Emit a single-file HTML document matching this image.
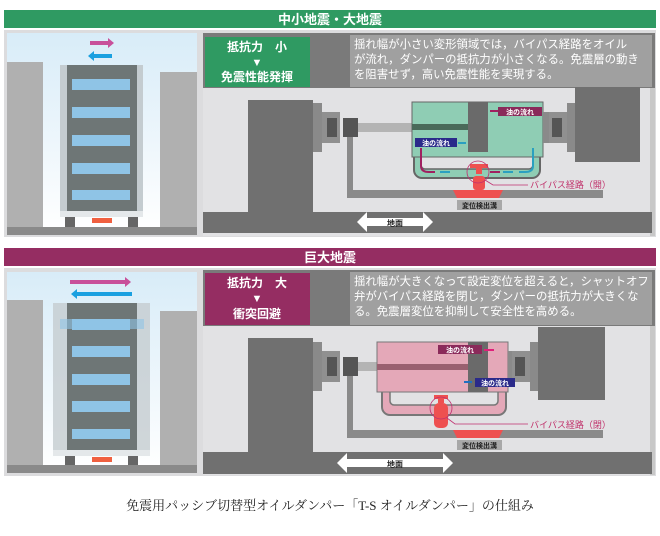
<!DOCTYPE html>
<html><head><meta charset="utf-8"><style>
html,body{margin:0;padding:0;background:#fff;}
svg{display:block;font-family:"Liberation Sans","Noto Sans CJK JP",sans-serif;}
</style></head><body>
<svg width="660" height="536" viewBox="0 0 660 536" xmlns="http://www.w3.org/2000/svg">
<defs>
<linearGradient id="sky" x1="0" y1="0" x2="0" y2="1"><stop offset="0" stop-color="#d8ecf8"/><stop offset="1" stop-color="#ffffff"/></linearGradient>
</defs>
<rect width="660" height="536" fill="#fff"/>
<rect x="4" y="10" width="652" height="18" fill="#2f9a62"/>
<text x="330" y="24" font-size="13" font-weight="bold" fill="#fff" text-anchor="middle">中小地震・大地震</text>
<rect x="4" y="248" width="652" height="18" fill="#952d62"/>
<text x="330" y="262" font-size="13" font-weight="bold" fill="#fff" text-anchor="middle">巨大地震</text>

<g>
<rect x="4" y="30" width="652" height="207" fill="#dcdcde"/>
<rect x="7" y="33" width="190" height="198" fill="url(#sky)"/>
<rect x="7" y="62" width="36" height="165" fill="#b0b0b0"/>
<rect x="160" y="72" width="37" height="155" fill="#b0b0b0"/>
<rect x="60" y="65" width="83" height="147" fill="#c4ccd0"/>
<rect x="67" y="65" width="70" height="147" fill="#6e7676"/>
<g fill="#8fc4e6"><rect x="72" y="79" width="58" height="11"/><rect x="72" y="107" width="58" height="11"/><rect x="72" y="135" width="58" height="11"/><rect x="72" y="163" width="58" height="11"/><rect x="72" y="190" width="58" height="10"/></g>
<rect x="92" y="200" width="40" height="10" fill="#6e7676"/>
<rect x="60" y="211" width="83" height="6" fill="#e4e8ea"/>
<rect x="65" y="217" width="10" height="10" fill="#666"/><rect x="128" y="217" width="10" height="10" fill="#666"/>
<rect x="92" y="218" width="20" height="5" fill="#f06040"/>
<rect x="7" y="227" width="190" height="8" fill="#8a8a8a"/>
<path d="M90 41h18v-3l6 5-6 5v-3h-18z" fill="#c8509a"/>
<path d="M112 54h-18v-3l-6 5 6 5v-3h18z" fill="#1aa0e0"/>
<rect x="203" y="33" width="452" height="203" fill="#e2e2e4"/>
<rect x="203" y="33" width="452" height="55" fill="#7a7a7a"/>
<rect x="205" y="37" width="105" height="50" fill="#2f9a62"/>
<text x="257" y="51" font-size="12" font-weight="bold" fill="#fff" text-anchor="middle">抵抗力　小</text>
<text x="257" y="66" font-size="11" fill="#fff" text-anchor="middle">▼</text>
<text x="257" y="81" font-size="12" font-weight="bold" fill="#fff" text-anchor="middle">免震性能発揮</text>
<rect x="350" y="35" width="302" height="52" fill="#a0a0a0"/>
<g font-size="11.4" fill="#fff"><text x="354" y="48">揺れ幅が小さい変形領域では，バイパス経路をオイル</text><text x="354" y="63">が流れ，ダンパーの抵抗力が小さくなる。免震層の動き</text><text x="354" y="78">を阻害せず，高い免震性能を実現する。</text></g>
<rect x="650" y="88" width="5" height="148" fill="#c8c8c8"/>
<rect x="248" y="100" width="65" height="113" fill="#707070"/>
<rect x="575" y="87" width="65" height="75" fill="#707070"/>
<rect x="203" y="212" width="449" height="21" fill="#707070"/>
<path d="M357 222l10-10v6h56v-6l10 10-10 10v-6h-56v6z" fill="#fff"/>
<text x="395" y="226" font-size="8" font-weight="bold" fill="#222" text-anchor="middle">地面</text>
<rect x="313" y="103" width="9" height="49" fill="#8a8a8a"/>
<rect x="322" y="112" width="18" height="31" fill="#909090"/><rect x="327" y="118" width="10" height="19" fill="#555"/>
<rect x="347" y="137" width="6" height="61" fill="#8a8a8a"/>
<rect x="347" y="190" width="256" height="8" fill="#8a8a8a"/>
<rect x="343" y="118" width="15" height="19" fill="#555"/>
<rect x="358" y="123" width="56" height="9" fill="#b4b4b4"/>
<rect x="414" y="150" width="126" height="28" rx="8" fill="#8fcdb4" stroke="#666" stroke-width="2"/>
<rect x="421" y="150" width="112" height="19" rx="4" fill="#e2e2e4" stroke="#666" stroke-width="1.5"/>
<rect x="412" y="102" width="131" height="55" fill="#8fcdb4" stroke="#666" stroke-width="1"/>
<rect x="412" y="124" width="56" height="6" fill="#4a6a5a"/>
<rect x="468" y="102" width="20" height="50" fill="#6a6a6a"/>
<rect x="543" y="112" width="6" height="31" fill="#8a8a8a"/><rect x="549" y="112" width="18" height="31" fill="#909090"/><rect x="552" y="118" width="10" height="19" fill="#555"/>
<rect x="567" y="103" width="8" height="49" fill="#8a8a8a"/>
<rect x="498" y="107" width="44" height="9" fill="#8a2a5a"/><text x="520" y="114.5" font-size="7" font-weight="bold" fill="#fff" text-anchor="middle">油の流れ</text>
<rect x="415" y="138" width="42" height="9" fill="#2a2a8a"/><text x="436" y="145.5" font-size="7" font-weight="bold" fill="#fff" text-anchor="middle">油の流れ</text>
<path d="M490 111h8" stroke="#a02060" stroke-width="2"/>
<path d="M466 143h-8" stroke="#2aa0c0" stroke-width="2"/>
<path d="M421 148v18q0 6 8 6h6" stroke="#a02060" stroke-width="2" fill="none"/>
<path d="M533 148v18q0 6 -8 6h-6" stroke="#2aa0c0" stroke-width="2" fill="none"/>
<path d="M450 172h-10M503 172h10" stroke="#2aa0c0" stroke-width="2"/><path d="M490 172h10" stroke="#a02060" stroke-width="2"/>
<rect x="470" y="164" width="18" height="4" fill="#ee5050"/><rect x="476" y="164" width="6" height="10" fill="#ee5050"/>
<rect x="473" y="176" width="12" height="14" rx="3" fill="#ee5050"/>
<path d="M453 190h50l-4 8h-42z" fill="#ee5050"/>
<circle cx="478" cy="172" r="11" fill="none" stroke="#c03070" stroke-width="0.8"/>
<path d="M485 180l8 5h35" stroke="#c03070" stroke-width="0.8" fill="none"/>
<text x="530" y="188" font-size="9" fill="#c0306a">バイパス経路（開）</text>
<rect x="457" y="200" width="45" height="10" fill="#a8a8a8"/><text x="479.5" y="208" font-size="7" font-weight="bold" fill="#222" text-anchor="middle">変位検出溝</text>
</g>

<g>
<rect x="4" y="268" width="652" height="208" fill="#dcdcde"/>
<rect x="7" y="272" width="190" height="198" fill="url(#sky)"/>
<rect x="7" y="300" width="36" height="165" fill="#b0b0b0"/>
<rect x="160" y="311" width="37" height="155" fill="#b0b0b0"/>
<rect x="53" y="303" width="97" height="147" fill="#c4ccd0" opacity="0.8"/>
<rect x="67" y="303" width="70" height="147" fill="#6e7676"/>
<g fill="#8fc4e6"><rect x="60" y="319" width="84" height="10" opacity="0.6"/><rect x="72" y="319" width="58" height="11"/><rect x="72" y="346" width="58" height="11"/><rect x="72" y="374" width="58" height="11"/><rect x="72" y="401" width="58" height="11"/><rect x="72" y="429" width="58" height="10"/></g>
<rect x="92" y="440" width="40" height="10" fill="#6e7676"/>
<rect x="53" y="450" width="97" height="6" fill="#e4e8ea"/>
<rect x="65" y="456" width="10" height="10" fill="#666"/><rect x="128" y="456" width="10" height="10" fill="#666"/>
<rect x="92" y="457" width="20" height="5" fill="#f06040"/>
<rect x="7" y="465" width="190" height="8" fill="#8a8a8a"/>
<path d="M70 280h55v-3l6 5-6 5v-3h-55z" fill="#c8509a"/>
<path d="M132 292h-55v-3l-6 5 6 5v-3h55z" fill="#1aa0e0"/>
<rect x="203" y="270" width="452" height="205" fill="#e2e2e4"/>
<rect x="203" y="270" width="452" height="56" fill="#7a7a7a"/>
<rect x="205" y="273" width="105" height="52" fill="#952d62"/>
<text x="257" y="287" font-size="12" font-weight="bold" fill="#fff" text-anchor="middle">抵抗力　大</text>
<text x="257" y="302" font-size="11" fill="#fff" text-anchor="middle">▼</text>
<text x="257" y="318" font-size="12" font-weight="bold" fill="#fff" text-anchor="middle">衝突回避</text>
<rect x="350" y="272" width="302" height="53" fill="#a0a0a0"/>
<g font-size="11.4" fill="#fff"><text x="354" y="285">揺れ幅が大きくなって設定変位を超えると，シャットオフ</text><text x="354" y="300">弁がバイパス経路を閉じ，ダンパーの抵抗力が大きくな</text><text x="354" y="315">る。免震層変位を抑制して安全性を高める。</text></g>
<rect x="650" y="326" width="5" height="149" fill="#c8c8c8"/>
<rect x="248" y="338" width="65" height="114" fill="#707070"/>
<rect x="538" y="327" width="67" height="73" fill="#707070"/>
<rect x="203" y="452" width="449" height="22" fill="#707070"/>
<path d="M337 463l10-10v6h96v-6l10 10-10 10v-6h-96v6z" fill="#fff"/>
<text x="395" y="467" font-size="8" font-weight="bold" fill="#222" text-anchor="middle">地面</text>
<rect x="313" y="342" width="9" height="49" fill="#8a8a8a"/>
<rect x="322" y="351" width="18" height="31" fill="#909090"/><rect x="327" y="357" width="10" height="19" fill="#555"/>
<rect x="347" y="376" width="6" height="62" fill="#8a8a8a"/>
<rect x="347" y="430" width="256" height="8" fill="#8a8a8a"/>
<rect x="343" y="357" width="15" height="19" fill="#555"/>
<rect x="358" y="362" width="20" height="9" fill="#b4b4b4"/>
<rect x="382" y="385" width="124" height="30" rx="8" fill="#e4a8b8" stroke="#777" stroke-width="2"/>
<rect x="390" y="385" width="108" height="20" rx="4" fill="#e2e2e4" stroke="#777" stroke-width="1.5"/>
<rect x="377" y="342" width="131" height="50" fill="#e4a8b8" stroke="#777" stroke-width="1"/>
<rect x="377" y="364" width="91" height="6" fill="#9a6070"/>
<rect x="468" y="342" width="20" height="50" fill="#6a6a6a"/>
<rect x="508" y="351" width="4" height="31" fill="#8a8a8a"/><rect x="512" y="351" width="18" height="31" fill="#909090"/><rect x="515" y="357" width="10" height="19" fill="#555"/>
<rect x="530" y="342" width="8" height="49" fill="#8a8a8a"/>
<rect x="438" y="345" width="44" height="9" fill="#8a2a5a"/><text x="460" y="352.5" font-size="7" font-weight="bold" fill="#fff" text-anchor="middle">油の流れ</text>
<rect x="475" y="378" width="40" height="9" fill="#2a2a8a"/><text x="495" y="385.5" font-size="7" font-weight="bold" fill="#fff" text-anchor="middle">油の流れ</text>
<path d="M484 350h10" stroke="#e0207a" stroke-width="2"/>
<path d="M472 382h-8" stroke="#2070c0" stroke-width="2"/>
<rect x="434" y="395" width="14" height="4" fill="#ee5050"/><rect x="438" y="395" width="6" height="8" fill="#ee5050"/>
<rect x="434" y="403" width="14" height="25" rx="5" fill="#ee5050"/>
<path d="M453 430h50l-4 8h-42z" fill="#ee5050"/>
<circle cx="441" cy="408" r="11" fill="none" stroke="#c03070" stroke-width="0.8"/>
<path d="M447 418l8 6h73" stroke="#c03070" stroke-width="0.8" fill="none"/>
<text x="530" y="428" font-size="9" fill="#c0306a">バイパス経路（閉）</text>
<rect x="457" y="440" width="45" height="10" fill="#a8a8a8"/><text x="479.5" y="448" font-size="7" font-weight="bold" fill="#222" text-anchor="middle">変位検出溝</text>
</g>

<text x="330" y="510" font-size="13" fill="#222" text-anchor="middle" font-family="'Liberation Serif','Noto Serif CJK SC',serif">免震用パッシブ切替型オイルダンパー「T-S オイルダンパー」の仕組み</text>
</svg>
</body></html>
